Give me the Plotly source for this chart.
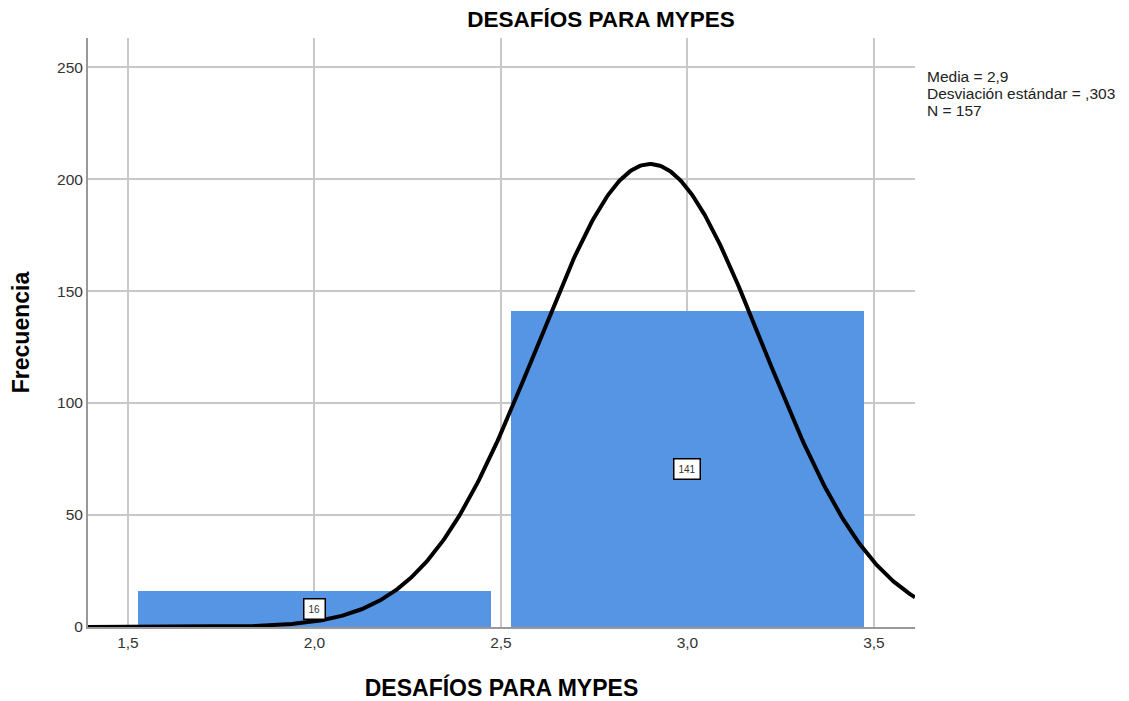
import numpy as np
import plotly.graph_objects as go

# Data
bin_centers = [2.0, 3.0]
counts = [16, 141]
bin_width = 1.0
mean = 2.9
std = 0.303
n = 157
x_ticks = [1.5, 2.0, 2.5, 3.0, 3.5]
x_tick_labels = ["1,5", "2,0", "2,5", "3,0", "3,5"]
y_ticks = [0, 50, 100, 150, 200, 250]
title = "DESAFÍOS PARA MYPES"
stats_lines = ["Media = 2,9", "Desviación estándar = ,303", "N = 157"]

x_range = [1.393, 3.61]
y_range = [0, 263]

font_family = "Liberation Sans, Arial, sans-serif"
W, H = 1121, 693
PLOT_H = H - 30 - 74

fig = go.Figure()
fig.add_trace(go.Bar(
    x=bin_centers, y=counts, width=0.944,
    marker=dict(color="#5595E3", line=dict(width=0)),
    hoverinfo="skip", showlegend=False,
))

xs = np.linspace(x_range[0], x_range[1], 500)
ys = n * bin_width / (std * np.sqrt(2 * np.pi)) * np.exp(-0.5 * ((xs - mean) / std) ** 2)
fig.add_trace(go.Scatter(x=xs, y=ys, mode="lines", cliponaxis=False,
                         line=dict(color="black", width=4), showlegend=False,
                         hoverinfo="skip"))

for xc, c in zip(bin_centers, counts):
    fig.add_annotation(x=xc, y=c / 2, text=str(c), showarrow=False,
                       font=dict(family=font_family, size=10, color="#333"),
                       bgcolor="white", bordercolor="black", borderwidth=1.5,
                       borderpad=4)

for i, line in enumerate(stats_lines):
    fig.add_annotation(xref="paper", yref="paper", x=1.012,
                       y=1 - (39 + 16.5 * i) / PLOT_H,
                       xanchor="left", yanchor="middle", align="left",
                       text=line, showarrow=False,
                       font=dict(family=font_family, size=15.5, color="#222"))

fig.update_layout(
    width=W, height=H,
    margin=dict(l=80, r=214, t=30, b=74),
    paper_bgcolor="white", plot_bgcolor="white",
    font=dict(family=font_family, color="#222"),
    title=dict(text="<b>" + title + "</b>", x=593 / W, xanchor="center",
               y=1 - 11 / H, yanchor="middle",
               font=dict(size=22.5, color="black")),
    bargap=0,
    xaxis=dict(range=x_range, tickvals=x_ticks, ticktext=x_tick_labels,
               showgrid=True, gridcolor="#c8c8c8", gridwidth=1.5,
               showline=True, linecolor="#999", linewidth=2,
               layer="below traces", automargin=False,
               ticks="", tickfont=dict(size=15.5, color="#333"),
               title=dict(text="<b>" + title + "</b>", font=dict(size=23, color="black"),
                          standoff=30),
               zeroline=False),
    yaxis=dict(range=y_range, tickvals=y_ticks,
               showgrid=True, gridcolor="#c8c8c8", gridwidth=1.5,
               showline=True, linecolor="#999", linewidth=2,
               layer="below traces", automargin=False,
               ticks="", tickfont=dict(size=15.5, color="#333"),
               title=dict(text="<b>Frecuencia</b>", font=dict(size=23, color="black"),
                          standoff=22),
               zeroline=False),
)

fig.write_html("out.html")
